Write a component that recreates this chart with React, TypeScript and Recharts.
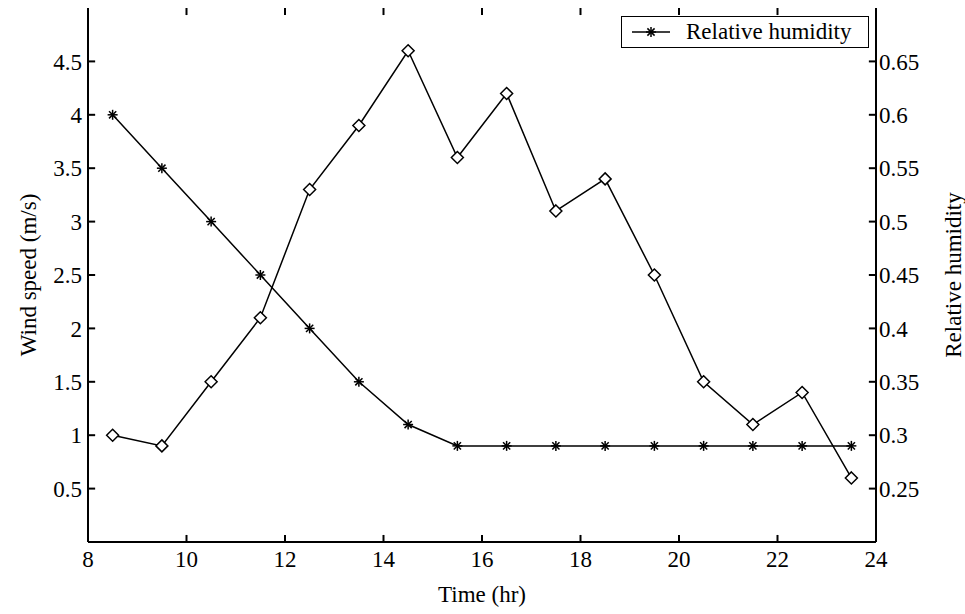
import { LineChart, Line, XAxis, YAxis, Legend, ReferenceLine } from 'recharts';

// hourly readings, taken at the half hour
const hours = [8.5, 9.5, 10.5, 11.5, 12.5, 13.5, 14.5, 15.5, 16.5, 17.5, 18.5, 19.5, 20.5, 21.5, 22.5, 23.5];
const windSpeed = [1.0, 0.9, 1.5, 2.1, 3.3, 3.9, 4.6, 3.6, 4.2, 3.1, 3.4, 2.5, 1.5, 1.1, 1.4, 0.6];
const humidity = [0.6, 0.55, 0.5, 0.45, 0.4, 0.35, 0.31, 0.29, 0.29, 0.29, 0.29, 0.29, 0.29, 0.29, 0.29, 0.29];

const timeTicks = [8, 10, 12, 14, 16, 18, 20, 22, 24];
const windTicks = [0.5, 1, 1.5, 2, 2.5, 3, 3.5, 4, 4.5];
const humidityTicks = [0.25, 0.3, 0.35, 0.4, 0.45, 0.5, 0.55, 0.6, 0.65];

const data = hours.map((t, i) => ({ t, wind: windSpeed[i], rh: humidity[i] }));

const FONT = '"Liberation Serif", "Times New Roman", serif';
const FONT_SIZE = 23;
const TIME_RANGE = [8, 24];
const WIND_RANGE = [0, 5];
// inward tick length (~7px) expressed in axis units
const TICK_T = 0.145;
const TICK_W = 0.066;

function Star({ cx, cy }: any) {
  if (cx == null || cy == null) return null;
  const r = 5;
  const d = 3.6;
  return (
    <g stroke="#000" strokeWidth={1.5}>
      <line x1={cx - r} x2={cx + r} y1={cy} y2={cy} />
      <line x1={cx} x2={cx} y1={cy - r} y2={cy + r} />
      <line x1={cx - d} x2={cx + d} y1={cy - d} y2={cy + d} />
      <line x1={cx - d} x2={cx + d} y1={cy + d} y2={cy - d} />
    </g>
  );
}

function Diamond({ cx, cy }: any) {
  if (cx == null || cy == null) return null;
  const r = 6;
  return (
    <polygon
      points={`${cx},${cy - r} ${cx + r},${cy} ${cx},${cy + r} ${cx - r},${cy}`}
      fill="#fff"
      stroke="#000"
      strokeWidth={1.5}
    />
  );
}

function HumidityLegend({ payload }: any) {
  const entry = (payload || [])[0];
  return (
    <div
      style={{
        boxSizing: 'border-box',
        width: 248,
        height: 32,
        border: '1px solid #000',
        background: '#fff',
        display: 'flex',
        alignItems: 'center',
        fontFamily: FONT,
        fontSize: FONT_SIZE,
        color: '#000',
        whiteSpace: 'nowrap',
      }}
    >
      <svg width={64} height={30} style={{ flex: 'none' }}>
        <line x1={10} x2={48} y1={15} y2={15} stroke="#000" strokeWidth={1.5} />
        <Star cx={29} cy={15} />
      </svg>
      <span>{entry ? entry.value : 'Relative humidity'}</span>
    </div>
  );
}

const axisLine = { stroke: '#000', strokeWidth: 2 };
const tickText = { fontSize: FONT_SIZE, fontFamily: FONT, fill: '#000' };
const labelText = { fontFamily: FONT, fontSize: FONT_SIZE, fill: '#000' };

// short segment pointing into the plot from one of the frame edges
const tickMark = (key: string, yAxisId: string, from: { x: number; y: number }, to: { x: number; y: number }) => (
  <ReferenceLine
    key={key}
    xAxisId="time"
    yAxisId={yAxisId}
    ifOverflow="visible"
    segment={[from, to]}
    stroke="#000"
    strokeWidth={2}
  />
);

export default function App() {
  const [t0, t1] = TIME_RANGE;
  const [w0, w1] = WIND_RANGE;
  return (
    <div style={{ width: 965, height: 614, background: '#fff' }}>
      <style>{'body { margin: 0; }'}</style>
      <LineChart width={965} height={614} data={data} margin={{ top: 8, right: 0, bottom: 0, left: 0 }}>
        <XAxis
          xAxisId="time"
          dataKey="t"
          type="number"
          domain={TIME_RANGE}
          ticks={timeTicks}
          interval={0}
          height={72}
          tickLine={false}
          tickSize={0}
          tickMargin={9}
          axisLine={axisLine}
          tick={tickText}
          label={{ value: 'Time (hr)', position: 'insideBottom', offset: 12, style: labelText }}
        />
        <XAxis
          xAxisId="frame"
          orientation="top"
          type="number"
          domain={TIME_RANGE}
          height={0}
          tickLine={false}
          axisLine={axisLine}
          tick={false}
        />
        <YAxis
          yAxisId="wind"
          type="number"
          domain={WIND_RANGE}
          ticks={windTicks}
          interval={0}
          width={88}
          tickLine={false}
          tickSize={0}
          tickMargin={6}
          axisLine={axisLine}
          tick={tickText}
          label={{
            value: 'Wind speed (m/s)',
            angle: -90,
            position: 'insideLeft',
            offset: 28,
            style: { ...labelText, textAnchor: 'middle' },
          }}
        />
        <YAxis
          yAxisId="rh"
          orientation="right"
          type="number"
          domain={[0.2, 0.7]}
          ticks={humidityTicks}
          interval={0}
          width={89}
          tickLine={false}
          tickSize={0}
          tickMargin={3}
          axisLine={axisLine}
          tick={tickText}
          label={{
            value: 'Relative humidity',
            angle: -90,
            position: 'insideRight',
            offset: 12,
            style: { ...labelText, textAnchor: 'middle' },
          }}
        />
        {timeTicks.map((t) => tickMark(`b-${t}`, 'wind', { x: t, y: w0 }, { x: t, y: w0 + TICK_W }))}
        {timeTicks.map((t) => tickMark(`t-${t}`, 'wind', { x: t, y: w1 }, { x: t, y: w1 - TICK_W }))}
        {windTicks.map((v) => tickMark(`l-${v}`, 'wind', { x: t0, y: v }, { x: t0 + TICK_T, y: v }))}
        {humidityTicks.map((v) => tickMark(`r-${v}`, 'rh', { x: t1, y: v }, { x: t1 - TICK_T, y: v }))}
        <Legend
          layout="vertical"
          align="center"
          verticalAlign="middle"
          content={HumidityLegend}
          wrapperStyle={{ left: 621, top: 16, width: 248, height: 32 }}
        />
        <Line
          xAxisId="time"
          yAxisId="wind"
          type="linear"
          dataKey="wind"
          name="Wind speed"
          legendType="none"
          stroke="#000"
          strokeWidth={1.5}
          dot={<Diamond />}
          activeDot={false}
          isAnimationActive={false}
        />
        <Line
          xAxisId="time"
          yAxisId="rh"
          type="linear"
          dataKey="rh"
          name="Relative humidity"
          stroke="#000"
          strokeWidth={1.5}
          dot={<Star />}
          activeDot={false}
          isAnimationActive={false}
        />
      </LineChart>
    </div>
  );
}
